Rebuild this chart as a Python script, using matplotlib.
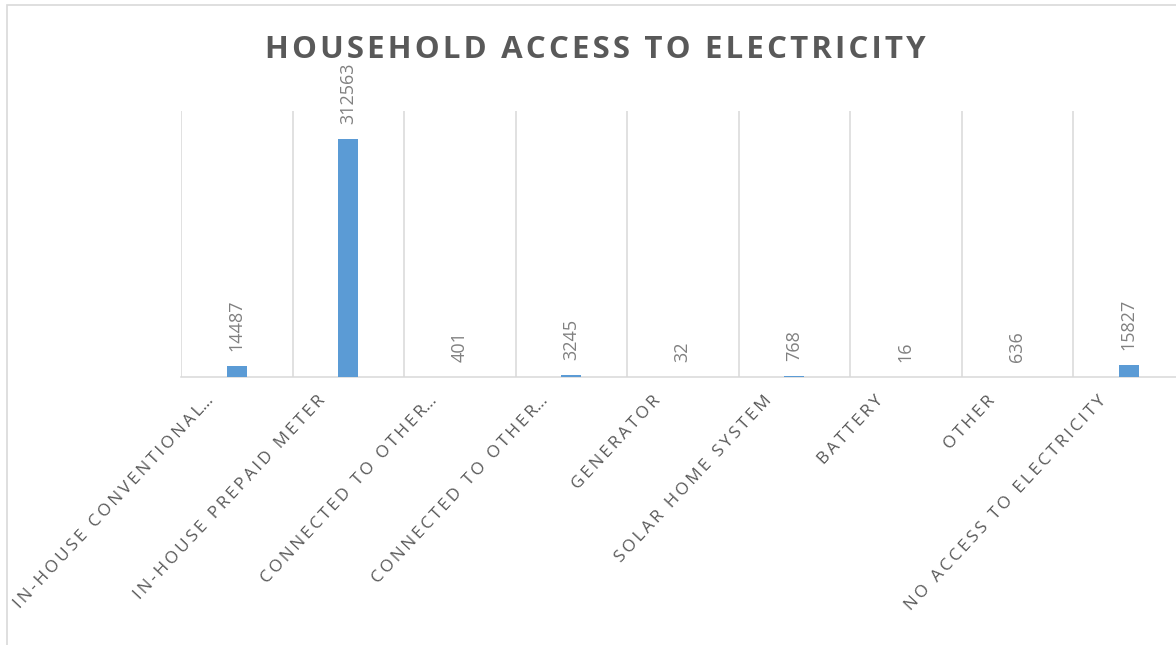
import matplotlib
matplotlib.use('Agg')
import matplotlib.pyplot as plt
from matplotlib.patches import Rectangle
import matplotlib.transforms as mtransforms

plt.rcParams['font.family'] = ['Open Sans', 'DejaVu Sans']

categories = ['In-house conventional…', 'In-house prepaid meter', 'Connected to other…',
              'Connected to other…', 'Generator', 'Solar home system', 'Battery',
              'Other', 'No access to electricity']
households = [14487, 312563, 401, 3245, 32, 768, 16, 636, 15827]
title = 'Household access to electricity'

BAR = '#5B9BD5'
GRID = '#D9D9D9'
TEXT = '#595959'
LABEL = '#808080'


def spaced(s, sep='\u2009'):
    # fake the letter spacing of the original
    return sep.join(s.upper()).replace(sep + '…', '…')


fig = plt.figure(figsize=(11.76, 6.45), dpi=100)
fig.patches.append(Rectangle((7 / 1176, -0.1), 1.2, 1 - 5 / 645 + 0.1, transform=fig.transFigure,
                             fill=False, edgecolor=GRID, linewidth=1.2))

ax = fig.add_axes([181 / 1176, 1 - 377 / 645, 1003.5 / 1176, 266 / 645])
x = list(range(len(categories)))
ax.bar(x, households, width=0.18, color=BAR, zorder=3)
ax.set_xlim(-0.5, len(categories) - 0.5)
ax.set_ylim(0, 350000)

for b in range(len(categories) + 1):
    ax.axvline(b - 0.5, color=GRID, linewidth=1.1, zorder=1)

for xi, v in zip(x, households):
    ax.annotate(str(v), (xi, v), xytext=(0, 15), textcoords='offset pixels',
                rotation=90, ha='center', va='bottom', fontsize=13, color=LABEL)

for s in ['top', 'left', 'right']:
    ax.spines[s].set_visible(False)
ax.spines['bottom'].set_color(GRID)
ax.spines['bottom'].set_linewidth(1.1)
ax.set_yticks([])
ax.set_xticks([])

shift = mtransforms.ScaledTranslation(-31 / 100, -16 / 100, fig.dpi_scale_trans)
for xi, c in zip(x, categories):
    ax.text(xi, 0, spaced(c), rotation=47, rotation_mode='anchor', ha='right', va='top',
            fontsize=12.3, color=TEXT, transform=ax.get_xaxis_transform() + shift)

fig.text(595 / 1176, 1 - 50 / 645, spaced(title, '\u200a'), ha='center', va='center',
         fontsize=22.5, fontweight='bold', color=TEXT)

fig.savefig('out.png', dpi=100)
